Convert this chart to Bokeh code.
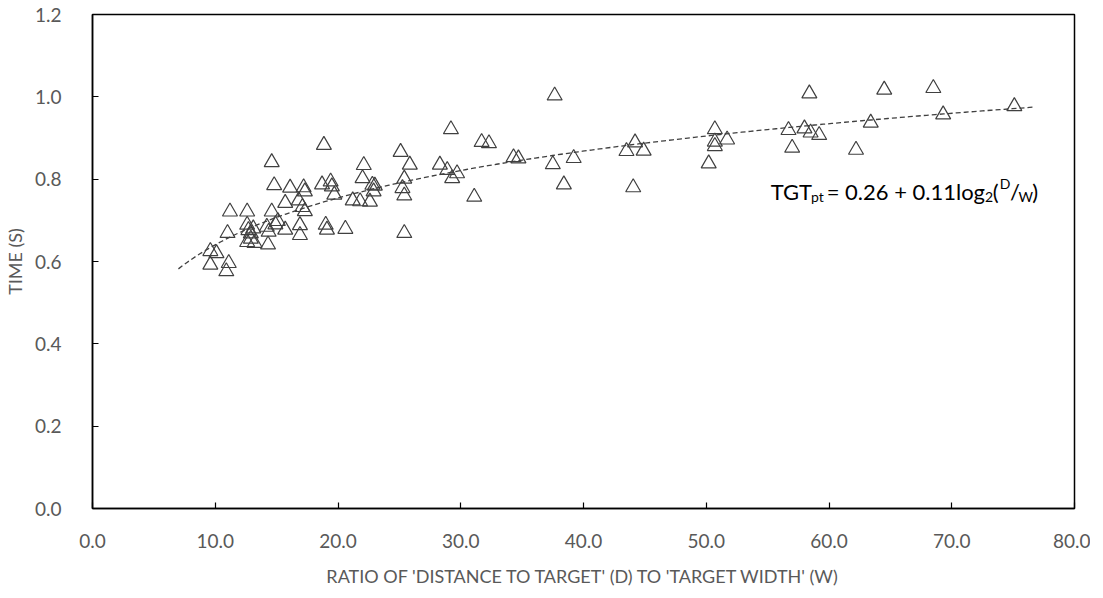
import numpy as np
from bokeh.plotting import figure
from bokeh.models import Range1d, Label, FixedTicker, NumeralTickFormatter, ColumnDataSource
from bokeh.embed import file_html
from bokeh.resources import INLINE

# ---- data ----
ratio = [9.6, 10.1, 9.6, 11.1, 10.9, 11.0, 11.2, 12.6, 12.6, 12.7,
         12.9, 13.1, 12.6, 13.2, 12.9, 14.2, 14.3, 14.35, 14.6, 14.6,
         14.8, 14.9, 15.1, 15.7, 15.7, 16.1, 16.8, 16.9, 16.9, 17.1,
         17.2, 17.3, 17.3, 18.7, 18.85, 19.0, 19.1, 19.4, 19.5, 19.7,
         20.6, 21.2, 21.8, 22.0, 22.1, 22.6, 22.8, 22.9, 23.0, 25.1,
         25.4, 25.25, 25.4, 25.4, 25.85, 28.3, 28.9, 29.2, 29.3, 29.7,
         31.1, 31.7, 32.3, 34.3, 34.7, 37.5, 37.65, 38.4, 39.2, 43.5,
         44.05, 44.2, 44.9, 50.2, 50.7, 50.7, 50.7, 51.7, 56.7, 57.0,
         58.0, 58.4, 58.5, 59.2, 62.2, 63.4, 64.5, 68.5, 69.3, 75.1]
time_s = [0.625, 0.620, 0.592, 0.596, 0.576, 0.669, 0.721, 0.721, 0.689, 0.676,
          0.668, 0.680, 0.647, 0.645, 0.655, 0.684, 0.641, 0.672, 0.721, 0.841,
          0.785, 0.690, 0.698, 0.677, 0.742, 0.779, 0.748, 0.688, 0.664, 0.732,
          0.780, 0.770, 0.722, 0.787, 0.883, 0.689, 0.677, 0.794, 0.782, 0.762,
          0.679, 0.748, 0.746, 0.802, 0.834, 0.745, 0.786, 0.770, 0.784, 0.866,
          0.801, 0.778, 0.760, 0.669, 0.835, 0.835, 0.822, 0.921, 0.802, 0.814,
          0.757, 0.890, 0.887, 0.853, 0.850, 0.836, 1.003, 0.787, 0.851, 0.868,
          0.780, 0.889, 0.869, 0.838, 0.921, 0.891, 0.880, 0.896, 0.919, 0.876,
          0.923, 1.008, 0.913, 0.907, 0.871, 0.937, 1.017, 1.021, 0.957, 0.977]
x_ticks = [0, 10, 20, 30, 40, 50, 60, 70, 80]
y_ticks = [0.0, 0.2, 0.4, 0.6, 0.8, 1.0, 1.2]
trend_extent = [7.0, 76.7]
x_title = "RATIO OF 'DISTANCE TO TARGET' (D) TO 'TARGET WIDTH' (W)"
y_title = "TIME (S)"

# logarithmic trendline fitted to the points (as the spreadsheet does)
b, a = np.polyfit(np.log(ratio), time_s, 1)
tx = np.linspace(trend_extent[0], trend_extent[1], 200)
ty = a + b * np.log(tx)

FONT = "Lato"
GREY = "#595959"

p = figure(width=1090, height=590, x_range=Range1d(0, 80), y_range=Range1d(0, 1.2),
           output_backend="svg", toolbar_location=None,
           min_border_left=88, min_border_right=16, min_border_top=14, min_border_bottom=82)
p.grid.visible = False
p.outline_line_color = "black"
p.outline_line_width = 1.5
p.background_fill_color = "white"
p.border_fill_color = "white"

for ax in (p.xaxis[0], p.yaxis[0]):
    ax.axis_line_color = "black"
    ax.axis_line_width = 1.5
    ax.major_tick_in = 6
    ax.major_tick_out = 0
    ax.major_tick_line_color = "black"
    ax.major_tick_line_width = 1.2
    ax.minor_tick_line_color = None
    ax.major_label_text_font = FONT
    ax.major_label_text_color = GREY
    ax.major_label_text_font_size = "19px"
    ax.axis_label_text_font = FONT
    ax.axis_label_text_font_style = "normal"
    ax.axis_label_text_color = GREY
    ax.axis_label_text_font_size = "18px"
    ax.formatter = NumeralTickFormatter(format="0.0")

p.xaxis.ticker = FixedTicker(ticks=x_ticks)
p.yaxis.ticker = FixedTicker(ticks=y_ticks)
p.xaxis.axis_label = x_title
p.yaxis.axis_label = y_title
p.xaxis.major_label_standoff = 25
p.xaxis.axis_label_standoff = 14
p.yaxis.major_label_standoff = 31
p.yaxis.axis_label_standoff = 6

p.line(tx, ty, line_dash="5 3", line_color="#404040", line_width=1.3)
src = ColumnDataSource(dict(x=ratio, y=time_s))
p.scatter("x", "y", source=src, marker="triangle", size=15,
          fill_color=None, line_color="#404040", line_width=1.2)

# equation label built from pieces (sub/superscripts)
W = {"T": .55, "G": .73, "p": .66, "t": .46, " ": .24, "=": .58, ".": .22, "+": .58,
     "l": .23, "o": .55, "g": .50, "(": .31, ")": .31, "D": .74, "/": .38, "W": .98}
def tw(s, fs):
    return sum(W.get(c, .56) for c in s) * fs

pieces = [("TGT", 22, 0), ("pt", 14, -5), (" = 0.26 + 0.11log", 22, 0), ("2", 14, -5),
          ("(", 22, 0), ("D", 14, 8), ("/", 22, 0), ("W", 14, -5), (")", 22, 0)]
eq_x, eq_y = 55.25, 0.769
off = 0.0
for s, fs, dy in pieces:
    p.add_layout(Label(x=eq_x, y=eq_y, x_offset=off, y_offset=dy, text=s,
                       text_font=FONT, text_font_size=f"{fs}px", text_color="black",
                       text_baseline="alphabetic", text_align="left"))
    off += tw(s, fs)

open("out.html", "w").write(file_html(p, INLINE))
